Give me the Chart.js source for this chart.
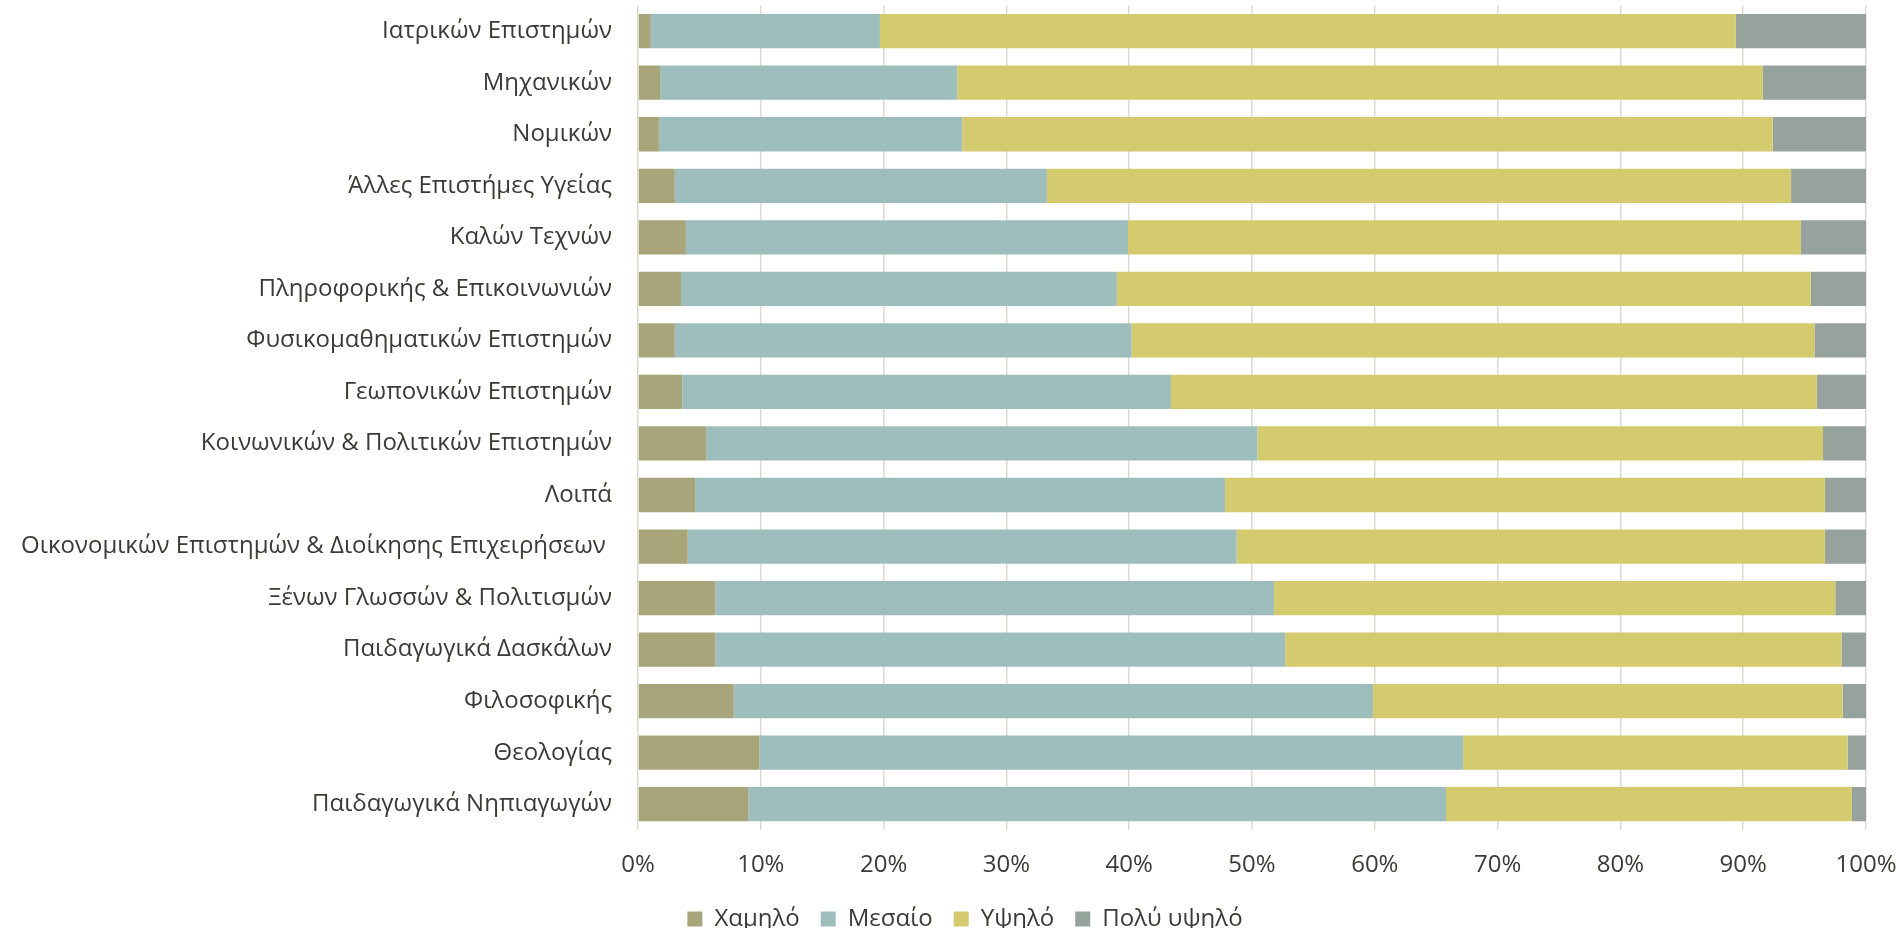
<!DOCTYPE html>
<html lang="el">
<head>
    <meta charset="UTF-8">
    <title>Κατανομή ανά σχολή</title>
    <script src="https://cdn.jsdelivr.net/npm/chart.js"></script>
    <style>
        * { margin: 0; padding: 0; box-sizing: border-box; }
        body { background: #fff; }
        .chart-box { position: relative; width: 1898px; height: 928px; }
    </style>
</head>
<body>

<div class="chart-box">
    <canvas id="levelsChart"></canvas>
</div>

<script>
    // Data (percent of each school)
    const schools = [
        'Ιατρικών Επιστημών',
        'Μηχανικών',
        'Νομικών',
        'Άλλες Επιστήμες Υγείας',
        'Καλών Τεχνών',
        'Πληροφορικής & Επικοινωνιών',
        'Φυσικομαθηματικών Επιστημών',
        'Γεωπονικών Επιστημών',
        'Κοινωνικών & Πολιτικών Επιστημών',
        'Λοιπά',
        'Οικονομικών Επιστημών & Διοίκησης Επιχειρήσεων ',
        'Ξένων Γλωσσών & Πολιτισμών',
        'Παιδαγωγικά Δασκάλων',
        'Φιλοσοφικής',
        'Θεολογίας',
        'Παιδαγωγικά Νηπιαγωγών'
    ];

    const low      = [1.05, 1.8, 1.7, 3.0, 3.9, 3.5, 3.0, 3.6, 5.55, 4.65, 4.05, 6.3, 6.3, 7.8, 9.9, 9.0];
    const medium   = [18.65, 24.2, 24.7, 30.3, 36.0, 35.5, 37.2, 39.8, 44.9, 43.15, 44.7, 45.5, 46.4, 52.05, 57.3, 56.8];
    const high     = [69.7, 65.6, 66.0, 60.6, 54.8, 56.5, 55.6, 52.6, 46.05, 48.85, 47.9, 45.7, 45.3, 38.25, 31.3, 33.05];
    const veryHigh = [10.6, 8.4, 7.6, 6.1, 5.3, 4.5, 4.2, 4.0, 3.5, 3.35, 3.35, 2.5, 2.0, 1.9, 1.5, 1.15];

    const seriesNames = ['Χαμηλό', 'Μεσαίο', 'Υψηλό', 'Πολύ υψηλό'];
    const xTicks = [0, 10, 20, 30, 40, 50, 60, 70, 80, 90, 100];

    Chart.defaults.font.family = "'Open Sans', sans-serif";
    Chart.defaults.font.size = 24;
    Chart.defaults.color = '#3a3a36';

    // the legend sits a bit right of centre in the original
    const legendShift = {
        id: 'legendShift',
        afterLayout(chart) {
            chart.legend.left += 32;
            chart.legend.right += 32;
        }
    };

    const ctx = document.getElementById('levelsChart').getContext('2d');
    new Chart(ctx, {
        type: 'bar',
        data: {
            labels: schools,
            datasets: [
                { label: seriesNames[0], data: low,      backgroundColor: '#a9a57b' },
                { label: seriesNames[1], data: medium,   backgroundColor: '#9ebebd' },
                { label: seriesNames[2], data: high,     backgroundColor: '#d3cb6d' },
                { label: seriesNames[3], data: veryHigh, backgroundColor: '#95a39c' }
            ]
        },
        options: {
            indexAxis: 'y',
            responsive: true,
            maintainAspectRatio: false,
            animation: false,
            datasets: {
                bar: { categoryPercentage: 1, barPercentage: 0.665 }
            },
            layout: { padding: { top: 5, right: 32, bottom: -13, left: 0 } },
            scales: {
                x: {
                    stacked: true,
                    min: 0,
                    max: 100,
                    afterBuildTicks: s => { s.ticks = xTicks.map(v => ({ value: v })); },
                    ticks: { padding: 0, callback: v => v + '%' },
                    // invisible tick marks give the gap under the plot
                    grid: { color: '#dcdad1', lineWidth: 1.5, drawTicks: true, tickLength: 21, tickColor: 'rgba(0,0,0,0)' },
                    border: { display: false },
                    afterFit: s => { s.height = 56; }
                },
                y: {
                    stacked: true,
                    ticks: { padding: 0, font: { lineHeight: 0.45 } },
                    grid: { display: false, drawTicks: true, tickLength: 26 },
                    border: { display: false },
                    afterFit: s => { s.width = 638; }
                }
            },
            plugins: {
                legend: {
                    position: 'bottom',
                    labels: { boxWidth: 15, boxHeight: 15, padding: 21 }
                },
                tooltip: { enabled: false }
            }
        },
        plugins: [legendShift]
    });
</script>

</body>
</html>
